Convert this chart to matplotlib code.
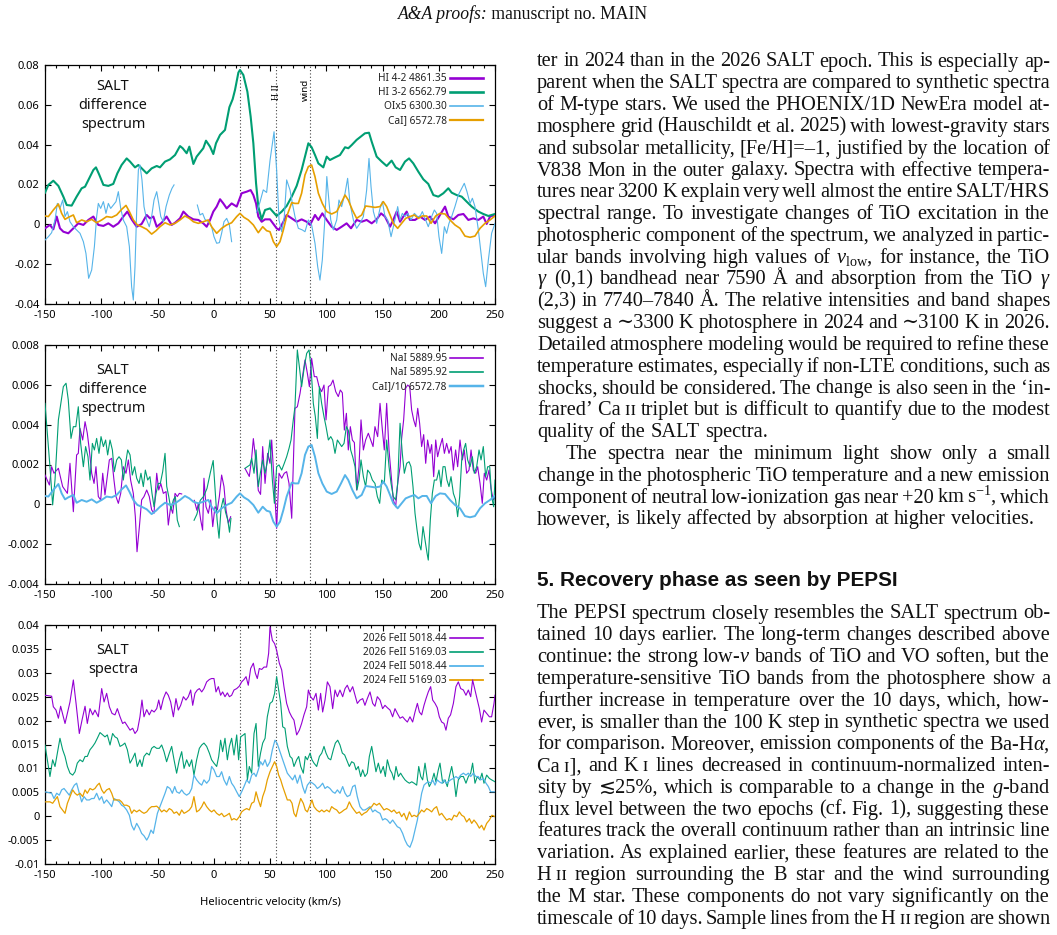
import matplotlib
matplotlib.use("Agg")
import matplotlib.pyplot as plt
from matplotlib.ticker import MultipleLocator, FuncFormatter

nan = float("nan")

# ---- panel 1: SALT difference spectrum (velocity km/s, flux) ----
hi42_4861 = [(-150, -.0020), (-145.6, -.0003), (-142.6, -.0025), (-139.6, .0039), (-136.7, -.0020), (-133.7, -.0037),
             (-129.3, -.0045), (-124.8, -.0020), (-120.4, .0005), (-115.9, -.0003), (-111.5, .0022), (-107, .0039),
             (-102.6, -.0003), (-98.1, -.0008), (-93.7, .0005), (-89.3, -.0012), (-84.8, .0005), (-80.4, .0039),
             (-76.8, .0064), (-73, .0025), (-68.5, -.0012), (-64.1, .0002), (-59.6, .0047), (-56.7, .0030),
             (-53.7, .0039), (-50.7, -.0012), (-46.3, .0008), (-41.9, .0039), (-37.4, -.0003), (-34.4, .0008),
             (-30, .0030), (-27, .0064), (-22.6, .0039), (-18.1, .0025), (-13.7, .0022), (-9.3, .0005),
             (-6.3, -.0012), (-3.3, .0022), (-0.4, .0064), (2.6, .0089), (5.6, .0126), (8.5, .0105), (11.5, .0080),
             (15.9, .0105), (20.4, .0089), (24.8, .0156), (29.3, .0164), (32.8, .0172), (35.2, .0147), (37.6, .0105),
             (39.6, .0039), (42.6, .0013), (45.6, .0025), (50, .0025), (55.9, -.0020), (58, -.0028), (61.9, .0013),
             (64.8, .0047), (69.3, .0030), (73.7, .0013), (78.1, .0025), (82.6, .0013), (85.6, -.0003), (90, .0047),
             (93, .0022), (96.5, .0055), (100.4, .0022), (104.8, -.0012), (109.3, -.0028), (113.7, -.0012),
             (118.1, .0005), (122, -.0020), (127, .0022), (131.5, .0013), (135.9, .0022), (140.4, .0005),
             (144.8, .0025), (148.7, .0055), (152.2, .0039), (156.7, -.0012), (159.6, .0022), (162.6, .0064),
             (165.6, .0013), (168.5, .0039), (171.5, .0064), (174.4, .0022), (178.9, .0022), (183.3, .0039),
             (187.8, .0022), (192.2, .0039), (196.7, .0005), (201.1, .0047), (205.6, .0089), (208.5, .0039),
             (213, .0025), (217.4, .0047), (221.9, .0052), (226.3, .0022), (230.7, .0030), (235.2, .0022),
             (239.6, .0039), (242.6, .0002), (245.6, .0039), (250, .0047)]

hi32_6563 = [(-150, .0159), (-147, .0198), (-142.6, .0219), (-138.1, .0193), (-133.7, .0139), (-130.7, .0097),
             (-126.3, .0094), (-121.9, .0139), (-117.4, .0181), (-114.4, .0189), (-110, .0239), (-107, .0273),
             (-104.7, .0286), (-101.7, .0248), (-98.1, .0198), (-93.7, .0193), (-89.3, .0203), (-85.7, .0256),
             (-81.9, .0298), (-77.4, .0331), (-74.4, .0315), (-70, .0286), (-67, .0298), (-62.6, .0273),
             (-59.6, .0256), (-55.2, .0281), (-50.7, .0293), (-47.8, .0286), (-43.3, .0315), (-38.9, .0326),
             (-34.4, .0348), (-30, .0393), (-27.6, .0382), (-24.1, .0357), (-21.7, .0390), (-18.1, .0303),
             (-15.2, .0340), (-9.3, .0382), (-6.9, .0420), (-3.3, .0390), (-0.4, .0353), (2, .0407), (5.6, .0449),
             (10, .0474), (13.9, .0588), (16.8, .0628), (18.9, .0675), (21.9, .0762), (23.3, .0775), (26.3, .0750),
             (29.9, .0666), (32.8, .0541), (35.2, .0407), (37.6, .0206), (39.6, .0089), (42.6, .0025), (45.6, .0072),
             (50, .0080), (55.9, .0042), (60.4, .0064), (64.8, .0092), (69.3, .0139), (73.7, .0193), (78.1, .0273),
             (81.1, .0340), (84.1, .0407), (87, .0387), (90, .0348), (93, .0306), (97.4, .0286), (100.4, .0340),
             (103.3, .0323), (107.8, .0336), (112.2, .0348), (116.7, .0387), (119.6, .0382), (122.6, .0398),
             (127, .0424), (131.5, .0444), (134.4, .0457), (138, .0460), (140.4, .0415), (144.8, .0340),
             (149.3, .0315), (153.7, .0293), (158.1, .0320), (161.7, .0286), (165.6, .0273), (170, .0315),
             (173.6, .0331), (177.4, .0306), (181.9, .0264), (186.3, .0226), (190.7, .0203), (195.2, .0147),
             (199.6, .0139), (204.1, .0156), (208.5, .0181), (211.5, .0159), (215.9, .0147), (220.4, .0139),
             (224.8, .0114), (229.3, .0089), (235.2, .0064), (239.6, .0052), (244.1, .0042), (250, .0052)]

oi_6300_x5 = [(-150, -.0079), (-147, -.0062), (-144.1, -.0042), (-141.1, .0022), (-139, .0105), (-136.7, .0080),
              (-134.3, .0122), (-132.2, .0039), (-130.1, .0064), (-127.8, .0013), (-124.8, -.0012), (-121.9, -.0028),
              (-118.9, -.0045), (-115.9, -.0087), (-113.6, -.0146), (-111.2, -.0271), (-108.5, -.0229),
              (-106.1, -.0112), (-104.1, .0039), (-102.6, .0105), (-100.5, .0080), (-98.1, .0114), (-95.8, .0055),
              (-93.7, .0105), (-91.6, .0080), (-89.3, .0097), (-86.9, .0114), (-84.8, .0164), (-82.7, .0080),
              (-80.4, .0022), (-77.4, -.0012), (-75, -.0112), (-73, -.0313), (-71.5, -.0380), (-70, -.0213),
              (-68.5, .0072), (-67, .0273), (-65.6, .0298), (-63.8, .0223), (-62, .0089), (-59.6, .0022),
              (-57.3, -.0012), (-55.2, .0039), (-53.1, .0122), (-50.7, .0164), (-48.9, .0105), (-47.1, .0039),
              (-44.8, .0013), (-42.4, .0089), (-39.5, .0147), (-37.1, .0181), (-35.3, .0198), (-25, nan),
              (-14.6, .0097), (-12.2, .0047), (-9.9, .0055), (-7.8, .0025), (-4.8, .0013), (-1.9, -.0012),
              (0.2, -.0062), (2.6, -.0095), (5, -.0092), (7, -.0045), (9.1, .0013), (11.5, .0030), (13.9, -.0003),
              (15.9, -.0087), (27, nan), (38, .0060), (41, .0110), (44, .0173), (47, .0160), (50, .0320),
              (53.6, .0465), (55.9, .0273), (58, .0022), (60.4, -.0037), (62.7, .0039), (64.8, .0223), (67.8, .0172),
              (69.9, .0105), (72.2, .0039), (75.2, -.0020), (78.7, -.0028), (81.1, -.0037), (84.1, .0022),
              (87, -.0003), (90, -.0095), (92.4, -.0213), (94.4, -.0280), (96.5, -.0179), (98.9, .0039),
              (100.5, .0240), (102.3, .0122), (104, .0022), (106.3, -.0028), (109.3, .0022), (111.3, .0122),
              (113.7, .0089), (116.7, .0156), (119, .0231), (121.1, .0105), (124.1, .0022), (127, -.0020),
              (130, .0005), (133, .0039), (135.9, .0172), (138, .0331), (139.8, .0189), (141.9, .0064),
              (144.8, .0005), (147.8, .0080), (149.9, .0114), (152.2, .0039), (154.6, .0022), (157.6, -.0062),
              (159.6, -.0012), (161.7, .0039), (163.5, .0089), (165.6, .0022), (167.6, .0055), (170, .0039),
              (172.4, .0055), (175.3, .0022), (178.3, .0055), (181.2, .0039), (183.3, .0039), (185.4, .0064),
              (187.8, .0030), (190.7, -.0012), (193.7, .0039), (196.1, .0072), (198.1, .0055), (200.2, -.0062),
              (202.6, -.0146), (205, -.0012), (207, -.0045), (209.1, .0005), (211.5, .0039), (214.4, .0089),
              (217.4, .0147), (220.4, .0181), (222.7, .0206), (225.1, .0164), (227.8, .0105), (229.9, .0131),
              (232.2, .0089), (235.2, -.0028), (237.6, -.0146), (239.6, -.0246), (241.7, -.0313), (244.1, -.0179),
              (247, -.0045), (250, .0005)]

cai_6573 = [(-150, .0042), (-147, .0039), (-142.6, .0072), (-138.1, .0102), (-135.2, .0055), (-132.2, .0025),
            (-129.3, .0035), (-124.8, .0047), (-121.9, .0008), (-117.4, .0022), (-113, .0013), (-108.5, .0025),
            (-104.1, .0008), (-99.6, .0022), (-95.2, .0039), (-90.7, .0035), (-86.3, .0047), (-81.9, .0075),
            (-78, .0095), (-75, .0064), (-71.5, .0022), (-67.9, -.0003), (-64.1, -.0012), (-59.6, -.0025),
            (-55.2, -.0049), (-51.3, -.0032), (-47.8, -.0012), (-43.3, .0008), (-38.9, -.0003), (-34.4, .0005),
            (-30, .0022), (-25.6, .0042), (-21.7, .0030), (-18.1, .0013), (-13.7, .0005), (-9.3, .0013),
            (-4.8, .0022), (-1.9, -.0012), (2.6, -.0045), (7, -.0020), (11.5, -.0003), (15.9, .0008), (20.4, .0039),
            (23.3, .0055), (26.9, .0035), (30.7, .0022), (35.2, -.0003), (39.6, -.0042), (43.5, -.0012),
            (47, -.0032), (50, -.0037), (53, -.0087), (55.9, -.0112), (58.9, -.0087), (61.9, -.0028), (64.8, .0039),
            (69.3, .0109), (72.2, .0105), (75.2, .0105), (78.1, .0156), (81.1, .0248), (84.1, .0290), (87, .0298),
            (90, .0239), (93, .0156), (96.5, .0105), (100.4, .0064), (104.8, .0052), (109.3, .0064), (113.1, .0105),
            (116.7, .0147), (119.6, .0122), (123.2, .0072), (127, .0030), (131.5, .0047), (135, .0092),
            (138.9, .0089), (143.3, .0085), (147.8, .0089), (150.7, .0114), (153.7, .0089), (156.7, .0047),
            (159.6, .0005), (163.5, -.0020), (167, .0005), (170.6, .0030), (174.4, .0039), (178.3, .0047),
            (181.9, .0030), (185.4, .0042), (189.3, .0042), (193.1, .0005), (197.3, .0042), (201.1, .0055),
            (205.6, .0052), (210, .0022), (214.4, -.0003), (218.9, -.0020), (223.3, -.0059), (227.8, -.0065),
            (232.2, -.0059), (236.7, -.0020), (241.1, .0005), (245.6, .0022), (250, .0042)]

# ---- panel 2: Na I doublet difference spectrum ----
nai_5890 = [(-150, .00147), (-146.1, .00097), (-144.1, .00189), (-142, .00156), (-138.1, .00181), (-134.3, .00089),
            (-130.1, .00055), (-127.8, .00206), (-124.8, -.00037), (-121.9, .00248), (-120.4, .00256),
            (-118.9, .00382), (-116.5, .00323), (-114.4, .00415), (-112.4, .00357), (-110.6, .00273),
            (-108.5, .00156), (-106.4, .00105), (-104.7, .00189), (-102.6, .00039), (-100.5, .00022),
            (-98.7, .00156), (-96.7, .00047), (-92.8, .00223), (-90.7, .00231), (-88.7, .00122), (-86.9, .00039),
            (-84.8, .00005), (-82.7, .00055), (-80.4, .00189), (-78, .00156), (-75.9, .00223), (-73.9, .00122),
            (-71.5, .00055), (-69.7, -.00062), (-68.2, -.00238), (-66.1, -.00112), (-64.1, .00022), (-62, .00039),
            (-59.6, .00072), (-57.3, .00039), (-55.2, -.00028), (-53.1, -.00045), (-50.7, .00156), (-48.9, .00072),
            (-47.1, .00105), (-44.8, .00055), (-42.4, .00064), (-40.4, -.00104), (-38.3, -.00012), (-36.5, -.00045),
            (-34.4, .00055), (-32.4, .00039), (-30.6, .00055), (-28.5, .00052), (-23, nan), (-17.3, .0002),
            (-15, -.0003), (-13.7, .00005), (-11.6, -.00079), (-9.9, -.00129), (-8.7, .00131), (-6.9, -.00012),
            (-4.8, -.00045), (-2.7, .00022), (-0.9, -.00112), (1.1, -.00012), (3.2, -.00028), (5, .0004),
            (7, .00147), (9.1, .00089), (10.9, -.00028), (13, -.00095), (15, -.00062), (21, nan), (27.8, .0018),
            (29.3, .00164), (31.6, .0014), (33.5, .0022), (35.2, .0033), (37.6, .0021), (39.6, .0007), (41.6, .0005),
            (43.5, .0029), (45.6, .00105), (47.9, .00256), (50, .00206), (51.5, .00323), (53.9, .00089),
            (55.9, -.00121), (58, .00156), (60.4, .00131), (62.7, .00156), (64.8, .00164), (66.9, .00105),
            (69.3, -.0007), (72.2, .00482), (74.3, .0049), (76.7, .00557), (78.7, .00633), (81.1, .00725),
            (83.2, .00658), (85, .00591), (87, .00733), (89.4, .00641), (91.5, .00641), (93.6, .00591),
            (95.9, .00566), (98, .00599), (99.8, .00424), (101.9, .00591), (104, .00599), (106, .00624),
            (108.4, .00566), (110.7, .00541), (112.5, .00574), (114.3, .0056), (116.1, .00373), (117.9, .00457),
            (119.6, .00273), (121.4, .0039), (123.2, .00323), (125, .0031), (127, .00072), (129.1, .00189),
            (130.9, .00424), (133, .00273), (135, .00323), (137.4, .00357), (139.5, .00323), (141.6, .0029),
            (143.3, .0039), (145.7, .0034), (147.8, .00507), (149.9, .00373), (151.6, .00273), (153.7, .00507),
            (155.8, .00273), (157.6, .00156), (159.6, .00022), (161.7, -.00012), (163.5, .00105), (165.6, .00189),
            (167, .0033), (168.8, .00424), (170.6, .00583), (172.4, .00599), (174.2, .0059), (175.9, .00474),
            (177.7, .00424), (179.5, .0039), (181.3, .00482), (183, .00407), (184.8, .0029), (186.6, .0035),
            (188.4, .00206), (190.1, .00323), (192.2, .00256), (193.7, .0030), (195.5, .00139), (197.3, .00323),
            (199, .00239), (201.1, .0029), (203.2, .00331), (205, .00256), (207, .00306), (209.1, .00256),
            (211, .0029), (213, .00172), (215, .00273), (216.8, .00189), (218.9, .00323), (221, .00223),
            (222.7, .00273), (224.8, .00156), (226.9, .00172), (228.7, .00273), (230.7, .00172), (232.8, .00156),
            (234.6, .00189), (236.7, .00105), (238.7, .00005), (240.5, .00156), (242.6, .00122), (244.7, .00172),
            (246.4, .0008), (248.5, .00022), (250, .00039)]

nai_5896 = [(-150, .00507), (-147.9, .00357), (-145.6, .00189), (-143.2, -.00003), (-141.1, .00122), (-138.1, .00424),
            (-133.7, .00591), (-131.3, .00608), (-129.3, .00524), (-126.9, .00331), (-124.8, .0039), (-122.6, .0039),
            (-120.4, .0049), (-118.3, .00306), (-115.9, .00189), (-113.9, .0029), (-111.8, .00239), (-110, .00122),
            (-107.9, .00306), (-106.1, .00273), (-104.1, .00331), (-102, .00256), (-100.2, .0034), (-98.1, .0029),
            (-96.1, .00323), (-94.3, .00248), (-92.2, .00323), (-90.1, .00273), (-88.4, .00164), (-86.3, .00223),
            (-84.2, .00239), (-82.1, .00223), (-80.4, .00122), (-78.3, .00206), (-76.5, .00273), (-74.4, .00248),
            (-72.4, .00147), (-70.3, .00189), (-68.5, .00131), (-66.4, .00105), (-64.7, .00156), (-62.6, .00089),
            (-60.8, .00172), (-58.7, .00122), (-56.7, .00139), (-54.9, .00055), (-53.1, -.00012), (-51.3, .00055),
            (-49.3, .00105), (-47.5, .00105), (-45.4, .00164), (-43.3, .00256), (-41.8, .0009), (-40, .00039),
            (-38, -.00028), (-35.9, .00022), (-34.1, .00039), (-32.4, -.00079), (-30.6, -.00112), (-24, nan),
            (-17.5, -.0008), (-15, -.0005), (-12, .0002), (-9, .0004), (-6, .0008), (-3, .0016), (-0.5, .0022),
            (1.5, .0005), (3, -.0008), (4.7, -.0017), (6.5, -.0002), (8.5, .0003), (10.5, -.0004), (12.5, -.0008),
            (14, -.0014), (15.3, -.0007), (21, nan), (27.8, .00181), (29.9, .00189), (32.2, .00198), (33.7, .00231),
            (35.8, .00156), (37.6, .00273), (39.6, .00089), (41.5, .0016), (43.5, .00223), (45.6, .00156),
            (47.9, .00223), (50, .00323), (52.1, .00122), (53.9, .00005), (55.9, .00189), (58, .00198),
            (60.4, .00172), (62.7, .00206), (64.8, .00239), (66.9, .00281), (68.7, .00323), (70.7, .00424),
            (72.2, .0049), (74.3, .00775), (76.1, .00691), (78.1, .00591), (80.5, .00691), (82.6, .00758),
            (84.7, .00775), (86.4, .00691), (88.5, .00507), (90.3, .0044), (92.1, .00331), (93.9, .00591),
            (95.9, .00507), (98, .0044), (99.8, .0039), (101.9, .00323), (104, .0034), (105.7, .00323),
            (107.8, .00256), (109.9, .00323), (111.9, .00306), (113.7, .0029), (115.8, .00306), (117.9, .0039),
            (119.7, .0037), (121.7, .00273), (123.5, .00239), (125.6, .00189), (127.3, .00072), (129.1, .00122),
            (130.9, .00223), (133, .00139), (135, .00089), (136.8, .00172), (138.9, .00156), (141, .00122),
            (143.3, .00105), (145.4, .00039), (147.5, .00005), (149.3, .00122), (151.6, .00105), (153.7, .00323),
            (155.8, .00189), (157.6, .00105), (159.6, .00039), (161.7, .00022), (163.5, .00105), (165.6, .00407),
            (167.6, .00256), (169.4, .00156), (171.5, .00206), (173.6, .00214), (175.3, .00189), (177.1, .00089),
            (178.9, -.00045), (180.7, -.00129), (182.4, -.00196), (184.2, -.00229), (186, -.00112), (187.8, -.00179),
            (189.6, -.00246), (190.7, -.0028), (192.5, -.00079), (194.3, .00055), (196.1, .00122), (198.1, .00122),
            (200.2, .00172), (202, .00089), (203.8, .00189), (205.6, .00189), (207.3, .00122), (209.1, .00089),
            (210.9, .00139), (213, .00055), (215, .00022), (216.8, -.00062), (218.6, .00039), (220.4, .00223),
            (222.1, .00273), (223.9, .00306), (225.7, .00223), (227.8, .00189), (229.9, .00239), (231.6, .00156),
            (233.7, .00189), (235.8, .00273), (237.6, .00223), (239.6, .0029), (241.7, .00139), (243.5, .00189),
            (245.3, .00189), (247, .00039), (248.8, -.00012), (250, .00122)]

# the third curve of panel 2 is the Ca I] profile of panel 1 scaled by 1/10 (as labelled)
cai_6573_div10 = [(v, f / 10) for v, f in cai_6573]

# ---- panel 3: SALT spectra, Fe II ----
fe5018_2026 = [(-150, .0253), (-144.1, .0251), (-142.6, .0229), (-140.2, .0222), (-138.1, .0205), (-136.1, .0230),
               (-132.2, .0194), (-130.1, .0215), (-127.8, .0239), (-124.8, .0285), (-122.4, .0236), (-119.5, .0173),
               (-117.1, .0201), (-114.4, .0230), (-112.4, .0194), (-110, .0225), (-107.6, .0212), (-105.6, .0222),
               (-102.6, .0208), (-99.6, .0267), (-97.5, .0239), (-95.2, .0257), (-92.8, .0229), (-90.4, .0215),
               (-87.8, .0212), (-85.7, .0225), (-83.3, .0208), (-81, .0194), (-79, .0197), (-76.8, .0189),
               (-74.4, .0180), (-72.1, .0184), (-70, .0173), (-67.8, .0180), (-65.6, .0208), (-63.8, .0243),
               (-62, .0208), (-59.6, .0223), (-57.3, .0212), (-55.2, .0222), (-53, .0218), (-50.7, .0225),
               (-48.9, .0243), (-47.1, .0223), (-44.8, .0246), (-42.4, .0260), (-40.4, .0253), (-38.3, .0239),
               (-35.9, .0208), (-33.6, .0246), (-31.5, .0222), (-29.4, .0232), (-27, .0250), (-24.7, .0243),
               (-22.6, .0250), (-20.5, .0264), (-18.7, .0232), (-16.7, .0257), (-14.6, .0264), (-12.8, .0267),
               (-10.7, .0260), (-8.7, .0267), (-6.3, .0281), (-3.9, .0286), (-1.9, .0288), (0.2, .0288), (2, .0260),
               (4.1, .0271), (6.1, .0253), (7.9, .0260), (10, .0250), (12.1, .0258), (13.9, .0250), (15.9, .0253),
               (18, .0264), (20.4, .0267), (22.7, .0272), (24.8, .0281), (26.9, .0286), (28.7, .0292), (30.7, .0274),
               (32.8, .0309), (35.2, .0320), (37, .0299), (38.7, .0288), (40.5, .0309), (42.6, .0307), (44.7, .0312),
               (47, .0312), (48.8, .0341), (50, .0396), (52.1, .0368), (54.1, .0361), (55.9, .0347), (58.3, .0320),
               (60.4, .0306), (62.4, .0271), (64.8, .0236), (67.2, .0218), (69.3, .0208), (71.3, .0201), (73.7, .0170),
               (76.1, .0180), (78.1, .0194), (80.2, .0212), (82.6, .0229), (84.1, .0264), (86.1, .0250), (88.5, .0243),
               (90.9, .0257), (93, .0222), (95, .0257), (96.8, .0218), (98.9, .0243), (101, .0281), (103.3, .0271),
               (105.7, .0225), (107.8, .0264), (109.9, .0250), (112.2, .0264), (114.6, .0250), (116.7, .0267),
               (118.7, .0274), (121.1, .0260), (123.5, .0271), (125.6, .0253), (127.6, .0236), (130, .0243),
               (132.4, .0246), (134.4, .0232), (136.5, .0246), (138.9, .0260), (141.3, .0236), (143.3, .0230),
               (145.4, .0250), (147.8, .0243), (150.1, .0225), (152.2, .0232), (154.3, .0227), (156.7, .0222),
               (159, .0208), (161.1, .0225), (163.2, .0215), (165.6, .0205), (167.9, .0208), (170, .0202),
               (172.1, .0197), (174.4, .0208), (176.8, .0197), (178.9, .0218), (181, .0236), (182.8, .0218),
               (184.8, .0212), (186.9, .0232), (188.7, .0246), (190.7, .0260), (192.8, .0271), (194.6, .0243),
               (196.7, .0236), (198.7, .0227), (200.5, .0208), (202.6, .0197), (204.7, .0194), (206.4, .0180),
               (208.5, .0205), (210.5, .0212), (213, .0236), (215.3, .0271), (217.4, .0281), (219.5, .0267),
               (221.9, .0264), (224.2, .0253), (226.3, .0264), (228.4, .0250), (230.1, .0285), (232.2, .0264),
               (234.3, .0243), (236.1, .0225), (238.1, .0197), (240.2, .0222), (242.6, .0215), (245, .0208),
               (247, .0208), (249.1, .0236), (250, .0253)]

fe5169_2026 = [(-150, .0149), (-147.9, .0118), (-145.6, .0083), (-143.2, .0118), (-141.1, .0104), (-139, .0132),
               (-136.7, .0163), (-134.3, .0139), (-132.2, .0125), (-130.1, .0104), (-127.8, .0090), (-125.4, .0086),
               (-123.3, .0093), (-121.3, .0111), (-118.9, .0118), (-116.5, .0114), (-114.4, .0125), (-112.4, .0125),
               (-110, .0139), (-107.6, .0146), (-105.6, .0153), (-103.5, .0163), (-101.1, .0175), (-98.7, .0170),
               (-96.7, .0166), (-94.6, .0170), (-92.2, .0149), (-89.9, .0173), (-87.8, .0166), (-85.7, .0163),
               (-83.3, .0146), (-81, .0149), (-79, .0153), (-76.8, .0139), (-74.4, .0111), (-72.1, .0121),
               (-70, .0132), (-68, .0104), (-65.6, .0118), (-63.8, .0104), (-62, .0125), (-59.6, .0132),
               (-57.3, .0128), (-55.2, .0142), (-53.1, .0146), (-50.7, .0142), (-48.4, .0142), (-46.3, .0149),
               (-44.2, .0135), (-41.9, .0114), (-39.5, .0132), (-37.4, .0146), (-35.3, .0118), (-33, .0090),
               (-30.6, .0118), (-28.5, .0135), (-26.4, .0100), (-24.1, .0118), (-21.7, .0104), (-19.6, .0118),
               (-17.6, .0086), (-15.2, .0118), (-12.8, .0142), (-10.7, .0149), (-8.7, .0153), (-6.3, .0146),
               (-3.9, .0132), (-1.9, .0118), (0.2, .0111), (2.6, .0104), (4.4, .0125), (6.1, .0159), (7.9, .0135),
               (10, .0163), (12.1, .0118), (13.9, .0146), (15.9, .0163), (18, .0128), (20.4, .0170), (22.1, .0118),
               (23.9, .0166), (26.3, .0170), (27.8, .0173), (29.9, .0076), (31.6, .0104), (33.7, .0090),
               (35.8, .0173), (37.6, .0194), (39.6, .0104), (41.6, .0132), (43.5, .0153), (45.6, .0163),
               (47.6, .0208), (50, .0236), (52.1, .0240), (54.1, .0257), (55.9, .0292), (57.7, .0264), (59.5, .0236),
               (61.3, .0187), (63.3, .0184), (65.4, .0146), (67.8, .0125), (69.6, .0121), (71.3, .0104),
               (73.7, .0118), (75.5, .0125), (77.3, .0104), (79.6, .0090), (81.4, .0125), (83.2, .0118),
               (85.6, .0132), (87.3, .0118), (89.1, .0111), (91.5, .0104), (93.9, .0125), (96, .0132), (98, .0146),
               (99.8, .0132), (101.9, .0121), (104, .0118), (106.3, .0139), (108.1, .0153), (110.2, .0159),
               (112.2, .0149), (114.3, .0132), (116.4, .0128), (118.1, .0118), (120.5, .0104), (122.6, .0114),
               (124.7, .0111), (126.5, .0097), (128.5, .0104), (130.6, .0083), (132.4, .0097), (134.4, .0083),
               (136.5, .0090), (138.3, .0125), (140.4, .0146), (142.4, .0118), (144.2, .0093), (146.3, .0111),
               (148.4, .0090), (150.7, .0104), (152.5, .0083), (154.3, .0118), (156.7, .0097), (158.4, .0090),
               (160.2, .0076), (162, .0104), (164.1, .0083), (166.1, .0090), (167.9, .0083), (170, .0076),
               (171.9, .0072), (173.9, .0069), (176, .0072), (178.1, .0069), (180.4, .0065), (182.2, .0104),
               (184, .0083), (185.7, .0076), (187.8, .0111), (189.9, .0076), (191.6, .0062), (193.7, .0072),
               (195.8, .0090), (197.5, .0072), (199.6, .0097), (201.1, .0111), (203.5, .0069), (205.6, .0076),
               (207.6, .0062), (209.4, .0083), (211.5, .0104), (213.6, .0076), (215.3, .0041), (217.4, .0076),
               (219.5, .0083), (221.9, .0083), (224.2, .0069), (226.3, .0083), (228.4, .0090), (230.1, .0111),
               (232.2, .0069), (234.3, .0083), (236.6, .0076), (238.4, .0090), (240.2, .0069), (242.6, .0086),
               (245, .0079), (247, .0076), (250, .0072)]

fe5018_2024 = [(-150, .0051), (-144.1, .0048), (-142, .0037), (-139.6, .0048), (-137.3, .0044), (-135.2, .0055),
               (-133.1, .0058), (-130.7, .0051), (-128.4, .0044), (-126.3, .0055), (-123.9, .0065), (-121.9, .0069),
               (-119.5, .0048), (-117.4, .0030), (-115.3, .0041), (-113, .0034), (-110.6, .0034), (-108.5, .0037),
               (-106.4, .0037), (-104.1, .0048), (-101.7, .0034), (-99.6, .0041), (-97.6, .0027), (-95.2, .0034),
               (-92.8, .0027), (-90.7, .0020), (-88.7, .0037), (-86.3, .0034), (-83.9, .0030), (-81.9, .0023),
               (-79.8, .0020), (-77.4, .0013), (-75, .0002), (-73, -.0019), (-70.9, -.0029), (-68.5, -.0015),
               (-66.1, -.0025), (-64.1, -.0036), (-62, -.0041), (-59.6, -.0050), (-57.9, -.0043), (-55.8, -.0029),
               (-53.7, -.0036), (-51.9, -.0015), (-50.1, .0006), (-47.8, .0020), (-45.4, .0034), (-43.3, .0048),
               (-41.3, .0062), (-38.9, .0058), (-36.8, .0048), (-34.7, .0062), (-33, .0051), (-30.6, .0048),
               (-28.5, .0055), (-26.4, .0048), (-24.1, .0044), (-21.7, .0048), (-19.6, .0058), (-17.6, .0086),
               (-15.2, .0076), (-12.8, .0069), (-10.7, .0065), (-8.7, .0076), (-6.3, .0069), (-3.9, .0076),
               (-1.9, .0104), (0.2, .0097), (2.6, .0083), (5, .0083), (7, .0093), (9.1, .0076), (11.5, .0065),
               (13.9, .0083), (15.9, .0069), (18, .0062), (20.4, .0051), (22.7, .0041), (24.8, .0051), (26.9, .0062),
               (29.3, .0076), (31.6, .0069), (33.7, .0086), (35.8, .0090), (37.6, .0083), (39.6, .0097),
               (41.6, .0114), (43.5, .0107), (45.6, .0118), (47.6, .0104), (50, .0114), (52.1, .0139), (54.4, .0159),
               (56.4, .0152), (58.9, .0135), (61.3, .0118), (63.3, .0104), (65.4, .0090), (67.8, .0083),
               (70.1, .0076), (72.2, .0086), (74.3, .0069), (76.7, .0086), (79, .0062), (81.1, .0048), (83.2, .0065),
               (85.6, .0072), (87.9, .0069), (90, .0065), (92.1, .0058), (94.4, .0062), (96.8, .0069), (98.9, .0058),
               (101, .0062), (103.3, .0058), (105.7, .0051), (107.8, .0048), (109.9, .0055), (112.2, .0048),
               (114.6, .0062), (116.7, .0048), (118.7, .0041), (121.1, .0044), (123.5, .0062), (125.6, .0065),
               (127.6, .0041), (130, .0020), (132.4, .0013), (134.4, .0013), (136.5, .0016), (138.9, .0020),
               (141.3, .0009), (143.3, .0013), (145.4, .0009), (147.8, .0006), (150.1, -.0008), (152.2, -.0005),
               (154.3, -.0008), (156.7, -.0015), (159, -.0008), (161.1, -.0015), (163.2, -.0022), (165.6, -.0025),
               (167.9, -.0036), (170, -.0050), (172.1, -.0060), (174.4, -.0065), (176.8, -.0050), (178.9, -.0029),
               (181, -.0008), (182.8, .0020), (184.8, .0048), (186.9, .0065), (188.7, .0069), (190.7, .0072),
               (192.8, .0069), (194.6, .0076), (196.7, .0065), (198.7, .0076), (200.5, .0072), (202.6, .0069),
               (204.7, .0076), (206.4, .0069), (208.5, .0072), (210.5, .0076), (213, .0079), (215.3, .0083),
               (217.4, .0079), (219.5, .0086), (221.9, .0090), (224.2, .0086), (226.3, .0090), (228.4, .0083),
               (230.7, .0090), (233, .0083), (235.1, .0083), (237.2, .0076), (239.6, .0079), (242, .0069),
               (244.1, .0062), (246.1, .0051), (250, .0051)]

fe5169_2024 = [(-150, .0030), (-145.6, .0030), (-143.2, .0027), (-141.1, .0034), (-139, .0041), (-136.7, .0020),
               (-132.2, .0006), (-130.1, .0027), (-127.8, .0041), (-125.4, .0055), (-123.3, .0048), (-121.3, .0044),
               (-118.9, .0048), (-116.5, .0041), (-114.4, .0055), (-112.4, .0048), (-110, .0058), (-107.6, .0055),
               (-105.6, .0058), (-103.5, .0065), (-101.7, .0069), (-99.6, .0055), (-97.6, .0048), (-95.2, .0055),
               (-92.8, .0058), (-90.7, .0048), (-88.7, .0034), (-86.3, .0034), (-83.9, .0034), (-81.9, .0030),
               (-79.8, .0023), (-77.4, .0023), (-75, .0020), (-73, .0006), (-70.9, .0013), (-68.5, .0009),
               (-66.1, .0013), (-64.1, .0009), (-62, .0006), (-59.6, .0009), (-57.3, .0016), (-55.2, .0020),
               (-53.1, .0020), (-50.7, .0021), (-48.4, .0016), (-46.3, .0009), (-44.2, .0013), (-41.9, .0009),
               (-39.5, .0016), (-37.4, .0013), (-35.3, .0006), (-33, .0009), (-30.6, .0002), (-28.5, .0013),
               (-26.4, .0006), (-24.1, .0009), (-21.7, .0013), (-19.6, .0020), (-17.6, .0041), (-15.2, .0009),
               (-12.8, .0013), (-10.7, .0020), (-8.7, .0030), (-6.3, .0020), (-3.9, .0013), (-1.9, .0009),
               (0.2, .0013), (2.6, .0006), (5, .0002), (7, .0006), (9.1, -.0001), (11.5, .0002), (13.9, .0006),
               (15.9, -.0008), (18, -.0005), (20.4, -.0008), (22.7, -.0001), (24.8, .0009), (26.9, .0013),
               (29.3, .0016), (31.6, .0013), (33.7, .0027), (35.8, .0030), (37.6, .0051), (39.6, .0034),
               (41.6, .0020), (43.5, .0041), (45.6, .0055), (47.6, .0076), (50, .0093), (52.1, .0104), (54.1, .0114),
               (55.9, .0104), (57.7, .0086), (59.5, .0076), (61.3, .0062), (63.3, .0048), (65.4, .0034),
               (67.8, .0034), (69.6, .0027), (71.3, .0006), (73.1, -.0001), (75.2, .0020), (77.3, .0037),
               (79.6, .0027), (81.4, .0013), (83.2, .0009), (85.6, .0023), (87.3, .0034), (89.1, .0020),
               (91.5, .0013), (93.9, .0009), (96, .0013), (98, .0009), (100.4, .0013), (102.8, .0009), (104.8, .0020),
               (106.9, .0016), (109.3, .0013), (111.6, .0006), (113.7, .0009), (115.8, .0013), (118.1, .0016),
               (120.5, .0030), (122.6, .0020), (124.7, .0013), (127, .0006), (129.4, .0009), (131.5, .0002),
               (133.5, .0006), (135.9, .0009), (138.3, .0016), (140.4, .0020), (142.4, .0027), (144.8, .0023),
               (147.2, .0027), (149.3, .0020), (151.3, .0013), (153.7, .0016), (156.1, .0013), (158.1, .0009),
               (160.2, .0013), (162.6, .0006), (164.9, .0009), (167, -.0001), (169.1, .0006), (171.5, -.0008),
               (173.9, .0009), (176, -.0001), (178.1, .0002), (180.4, -.0001), (182.8, .0006), (184.8, .0013),
               (186.9, .0009), (189.3, .0016), (191.6, .0013), (193.7, .0009), (195.8, .0016), (198.1, .0020),
               (200.5, .0002), (202.6, .0006), (204.7, -.0001), (207, -.0008), (209.4, -.0005), (211.5, -.0008),
               (213.6, .0002), (216, -.0001), (218.3, .0009), (220.4, .0002), (222.5, -.0001), (224.8, -.0012),
               (227.2, -.0005), (229.3, -.0015), (231.3, -.0008), (233.7, -.0015), (236.1, -.0025), (238.1, -.0019),
               (240.2, -.0029), (242.6, -.0015), (245, -.0008), (247.3, .0002), (250, -.0001)]

ref_velocities = [23.3, 55.5, 85.5]
purple, green, blue, orange = "#9400d3", "#009e73", "#56b4e9", "#e69f00"

panels = [
    dict(series=[(hi42_4861, "HI 4-2 4861.35", purple, 1.5), (hi32_6563, "HI 3-2 6562.79", green, 1.5),
                 (oi_6300_x5, "OIx5 6300.30", blue, 0.8), (cai_6573, "CaI] 6572.78", orange, 1.2)],
         ylim=(-0.04, 0.08), ystep=0.02, label="SALT\ndifference\nspectrum", label_y=0.83, top=65),
    dict(series=[(nai_5890, "NaI 5889.95", purple, 0.8), (nai_5896, "NaI 5895.92", green, 0.8),
                 (cai_6573_div10, "CaI]/10 6572.78", blue, 1.4)],
         ylim=(-0.004, 0.008), ystep=0.002, label="SALT\ndifference\nspectrum", label_y=0.815, top=345),
    dict(series=[(fe5018_2026, "2026 FeII 5018.44", purple, 0.8), (fe5169_2026, "2026 FeII 5169.03", green, 0.8),
                 (fe5018_2024, "2024 FeII 5018.44", blue, 0.9), (fe5169_2024, "2024 FeII 5169.03", orange, 0.9)],
         ylim=(-0.01, 0.04), ystep=0.005, label="SALT\nspectra", label_y=0.855, top=625),
]

W, H = 1057, 935
plt.rcParams["font.family"] = ["Noto Sans", "DejaVu Sans"]
plt.rcParams["axes.unicode_minus"] = False
plt.rcParams["mathtext.fontset"] = "custom"
plt.rcParams["mathtext.rm"] = "Liberation Serif"
plt.rcParams["mathtext.it"] = "Liberation Serif:italic"
plt.rcParams["mathtext.bf"] = "Liberation Serif:bold"

fig = plt.figure(figsize=(W / 100, H / 100), dpi=100)
fmt = FuncFormatter(lambda v, p: f"{round(v, 6) + 0:g}")

for i, p in enumerate(panels):
    ax = fig.add_axes([45 / W, 1 - (p["top"] + 239) / H, 450 / W, 239 / H])
    for v in ref_velocities:
        ax.axvline(v, color="#444444", lw=0.8, ls=(0, (1, 2)), zorder=1)
    for k, (pts, lab, col, lw) in enumerate(p["series"]):
        xs = [a for a, b in pts]
        ys = [b for a, b in pts]
        ax.plot(xs, ys, color=col, lw=lw, zorder=3)
        yy = 0.944 - k * 0.0586
        ax.text(0.893, yy, lab, transform=ax.transAxes, ha="right", va="center", fontsize=7.3, color="#222222")
        ax.plot([0.90, 0.973], [yy, yy], transform=ax.transAxes, color=col, lw=lw + 0.4)
    ax.text(0.151, p["label_y"], p["label"], transform=ax.transAxes, ha="center", va="center",
            fontsize=10.4, linespacing=1.38, zorder=2, color="#111111")
    ax.set_xlim(-150, 250)
    ax.set_ylim(*p["ylim"])
    ax.xaxis.set_major_locator(MultipleLocator(50))
    ax.xaxis.set_minor_locator(MultipleLocator(10))
    ax.yaxis.set_major_locator(MultipleLocator(p["ystep"]))
    ax.xaxis.set_major_formatter(fmt)
    ax.yaxis.set_major_formatter(fmt)
    ax.tick_params(which="both", direction="in", top=True, right=True, labelsize=8, width=0.8)
    ax.tick_params(which="major", length=4.5, pad=4)
    ax.tick_params(which="minor", length=2.2)
    for s in ax.spines.values():
        s.set_linewidth(0.9)
    if i == 0:
        ax.text(55.5, 0.0665, "H II", rotation=90, ha="center", va="center", fontsize=7,
                family="Liberation Serif")
        ax.text(81.5, 0.0675, "wind", rotation=90, ha="center", va="center", fontsize=7)

fig.text(270 / W, 1 - 903 / H, "Heliocentric velocity (km/s)", ha="center", va="center", fontsize=8)

# ---- page text on the right ----
renderer = fig.canvas.get_renderer()
serif = ["Liberation Serif", "DejaVu Serif", "DejaVu Sans"]


def text_width(s, **kw):
    t = fig.text(0, 0, s, **kw)
    w = t.get_window_extent(renderer).width
    t.remove()
    return w


left, right = 537, 1050

lines_top = [
    ("ter in 2024 than in the 2026 SALT epoch. This is especially ap-", 1, 0),
    ("parent when the SALT spectra are compared to synthetic spectra", 1, 0),
    ("of M-type stars. We used the PHOENIX/1D NewEra model at-", 1, 0),
    ("mosphere grid (Hauschildt et al. 2025) with lowest-gravity stars", 1, 0),
    ("and subsolar metallicity, [Fe/H]=\u20131, justified by the location of", 1, 0),
    ("V838 Mon in the outer galaxy. Spectra with effective tempera-", 1, 0),
    ("tures near 3200 K explain very well almost the entire SALT/HRS", 1, 0),
    ("spectral range. To investigate changes of TiO excitation in the", 1, 0),
    ("photospheric component of the spectrum, we analyzed in partic-", 1, 0),
    (r"ular bands involving high values of $v_\mathrm{low}$, for instance, the TiO", 1, 0),
    (r"$\gamma$ (0,1) bandhead near 7590 Å and absorption from the TiO $\gamma$", 1, 0),
    ("(2,3) in 7740\u20137840 Å. The relative intensities and band shapes", 1, 0),
    ("suggest a \u223c3300 K photosphere in 2024 and \u223c3100 K in 2026.", 1, 0),
    ("Detailed atmosphere modeling would be required to refine these", 1, 0),
    ("temperature estimates, especially if non-LTE conditions, such as", 1, 0),
    ("shocks, should be considered. The change is also seen in the \u2018in-", 1, 0),
    ("frared\u2019 Ca\u2009\u026a\u026a triplet but is difficult to quantify due to the modest", 1, 0),
    ("quality of the SALT spectra.", 0, 0),
    ("The spectra near the minimum light show only a small", 1, 29),
    ("change in the photospheric TiO temperature and a new emission", 1, 0),
    ("component of neutral low-ionization gas near +20 km\u2009s$^{-1}$, which", 1, 0),
    ("however, is likely affected by absorption at higher velocities.", 0, 0),
]
lines_bottom = [
    ("The PEPSI spectrum closely resembles the SALT spectrum ob-", 1, 0),
    ("tained 10 days earlier. The long-term changes described above", 1, 0),
    ("continue: the strong low-$v$ bands of TiO and VO soften, but the", 1, 0),
    ("temperature-sensitive TiO bands from the photosphere show a", 1, 0),
    ("further increase in temperature over the 10 days, which, how-", 1, 0),
    ("ever, is smaller than the 100 K step in synthetic spectra we used", 1, 0),
    (r"for comparison. Moreover, emission components of the Ba-H$\alpha$,", 1, 0),
    ("Ca\u2009\u026a], and K\u2009\u026a lines decreased in continuum-normalized inten-", 1, 0),
    ("sity by \u227225%, which is comparable to a change in the $g$-band", 1, 0),
    ("flux level between the two epochs (cf. Fig. 1), suggesting these", 1, 0),
    ("features track the overall continuum rather than an intrinsic line", 1, 0),
    ("variation. As explained earlier, these features are related to the", 1, 0),
    ("H\u2009\u026a\u026a region surrounding the B star and the wind surrounding", 1, 0),
    ("the M star. These components do not vary significantly on the", 1, 0),
    ("timescale of 10 days. Sample lines from the H\u2009\u026a\u026a region are shown", 1, 0),
]

# pick the body size so that justified lines need little stretching
base = 13.0
kw0 = dict(family=serif, fontsize=base)
sp0 = text_width("a a", **kw0) - text_width("aa", **kw0)
ratios = []
for s, j, ind in lines_top + lines_bottom:
    if j:
        words = s.split(" ")
        nat = sum(text_width(w, **kw0) for w in words) + sp0 * (len(words) - 1)
        ratios.append((right - left - ind) / nat)
ratios.sort()
body_size = base * ratios[len(ratios) // 2]
body = dict(family=serif, fontsize=body_size, color="#111111")
space = text_width("a a", **body) - text_width("aa", **body)


def put_line(s, y, justify, indent):
    words = s.split(" ")
    ws = [text_width(w, **body) for w in words]
    x0 = left + indent
    gap = (right - x0 - sum(ws)) / (len(words) - 1) if justify else space
    x = x0
    for w, wd in zip(words, ws):
        fig.text(x / W, 1 - y / H, w, va="baseline", ha="left", **body)
        x += wd + gap


for n, (s, j, ind) in enumerate(lines_top):
    put_line(s, 66.5 + n * 21.8, j, ind)
for n, (s, j, ind) in enumerate(lines_bottom):
    put_line(s, 618.5 + n * 21.8, j, ind)

# section heading
head = "5. Recovery phase as seen by PEPSI"
hkw = dict(family=["Liberation Sans", "DejaVu Sans"], weight="bold", color="#111111")
hsize = 13 * 361 / text_width(head, fontsize=13, **hkw)
fig.text(left / W, 1 - 586 / H, head, fontsize=hsize, va="baseline", **hkw)

# running header
hdr = dict(family=serif, fontsize=12.7, color="#111111")
h1, h2 = "A&A proofs:", " manuscript no. MAIN"
w1 = text_width(h1, style="italic", **hdr)
w2 = text_width(h2, **hdr)
hx = 522.5 - (w1 + w2) / 2
fig.text(hx / W, 1 - 19 / H, h1, style="italic", va="baseline", **hdr)
fig.text((hx + w1) / W, 1 - 19 / H, h2, va="baseline", **hdr)

fig.savefig("out.png", dpi=100)
